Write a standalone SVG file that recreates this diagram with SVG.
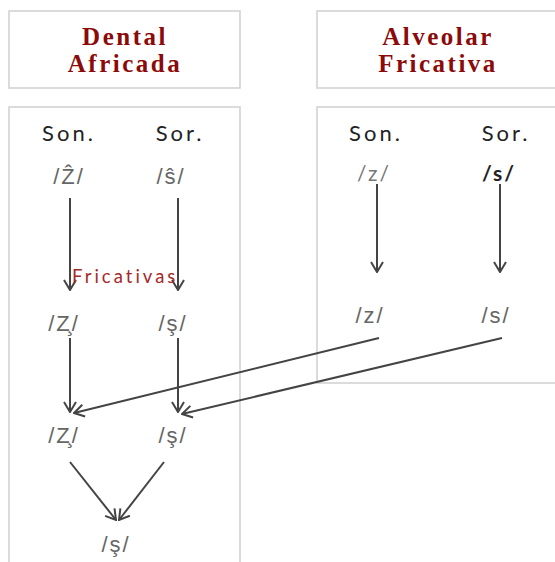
<svg xmlns="http://www.w3.org/2000/svg" width="555" height="562" viewBox="0 0 555 562">
<defs>
<style>
.box{fill:#fff;stroke:#cfcfcf;stroke-width:1.5}
.title{font-family:"Liberation Serif",serif;font-weight:bold;font-size:25px;fill:#8b0a0a;letter-spacing:2.5px;text-anchor:middle}
.hdr{font-family:Lato,"DejaVu Sans",sans-serif;font-size:22px;fill:#222;letter-spacing:3px;text-anchor:middle}
.ph{font-family:"Liberation Sans",Arial,sans-serif;font-size:22px;fill:#666;text-anchor:middle;letter-spacing:2px}
.phb{font-family:Lato,"DejaVu Sans",sans-serif;font-size:21px;fill:#222;font-weight:bold;text-anchor:middle;letter-spacing:2px}
.phl{font-family:Lato,"DejaVu Sans",sans-serif;font-size:21px;fill:#777;text-anchor:middle;letter-spacing:2px}
.lab{font-family:Lato,"DejaVu Sans",sans-serif;font-size:18.5px;fill:#a52a2a;letter-spacing:3px}
.arr{stroke:#444;stroke-width:2;fill:none;marker-end:url(#ah)}
</style>
<marker id="ah" viewBox="0 0 12 14" refX="11" refY="7" markerWidth="12" markerHeight="14" markerUnits="userSpaceOnUse" orient="auto">
<path d="M1,1 L11,7 L1,13" fill="none" stroke="#444" stroke-width="2"/>
</marker>
</defs>
<g id="hdr-dental"><rect class="box" x="9" y="11" width="231" height="77"/><text class="title" x="125" y="45">Dental</text><text class="title" x="125" y="72">Africada</text></g>
<g id="hdr-alveolar"><rect class="box" x="317" y="11" width="250" height="77"/><text class="title" x="438" y="45">Alveolar</text><text class="title" x="438" y="72">Fricativa</text></g>
<g id="body-dental"><rect class="box" x="9" y="107" width="231" height="470"/><text class="hdr" x="69" y="141">Son.</text><text class="hdr" x="180" y="141">Sor.</text></g>
<g id="body-alveolar"><rect class="box" x="317" y="107" width="250" height="276"/><text class="hdr" x="376" y="141">Son.</text><text class="hdr" x="506" y="141">Sor.</text></g>
<g id="n-zh1"><text class="ph" x="69" y="184">/Ẑ/</text></g>
<g id="n-sh1"><text class="ph" x="171" y="184">/ŝ/</text></g>
<g id="n-z1"><text class="phl" x="374" y="181">/z/</text></g>
<g id="n-s1"><text class="phb" x="499" y="181">/s/</text></g>
<g id="n-zc2"><text class="ph" x="64" y="331">/Z̧/</text></g>
<g id="n-sc2"><text class="ph" x="173" y="331">/ş/</text></g>
<g id="n-z2"><text class="ph" x="370" y="323">/z/</text></g>
<g id="n-s2"><text class="ph" x="496" y="323">/s/</text></g>
<g id="n-zc3"><text class="ph" x="64" y="443">/Z̧/</text></g>
<g id="n-sc3"><text class="ph" x="173" y="443">/ş/</text></g>
<g id="n-s4"><text class="ph" x="116" y="552">/ş/</text></g>
<g id="connectors">
<line class="arr" x1="70" y1="198" x2="70" y2="290"/>
<line class="arr" x1="178" y1="198" x2="178" y2="290"/>
<line class="arr" x1="377" y1="184" x2="377" y2="272"/>
<line class="arr" x1="500" y1="184" x2="500" y2="272"/>
<line class="arr" x1="70" y1="338" x2="70" y2="412"/>
<line class="arr" x1="178" y1="338" x2="178" y2="412"/>
<line class="arr" x1="379" y1="338" x2="74" y2="413"/>
<line class="arr" x1="502" y1="338" x2="182" y2="414"/>
<line class="arr" x1="70" y1="462" x2="116" y2="520"/>
<line class="arr" x1="164" y1="462" x2="119" y2="520"/>
</g>
<text class="lab" x="72" y="283">Fricativas</text>
</svg>
